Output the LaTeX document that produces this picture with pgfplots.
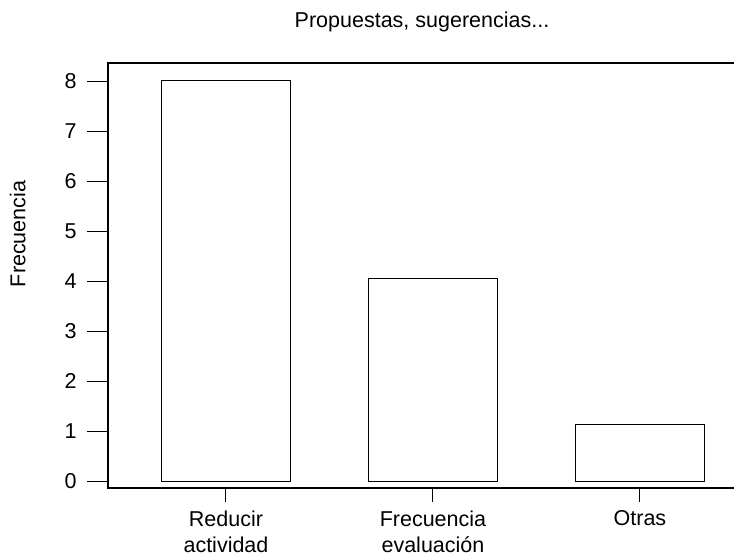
\documentclass[border=0pt]{standalone}
\usepackage{fontspec}
\setmainfont{Liberation Sans}
\usepackage{pgfplots}
\pgfplotsset{compat=1.18}
\newcommand{\chartfont}{\fontsize{21.5bp}{26bp}\selectfont}
\begin{document}
\begin{tikzpicture}
\useasboundingbox (-108bp,-68bp) rectangle (626bp,488bp);
\begin{axis}[
  scale only axis,
  width=628bp, height=425bp,
  xmin=-0.57, xmax=2.464,
  ymin=-0.14, ymax=8.36,
  axis line style={line width=1.4bp, black},
  ybar, bar width=0.62,
  xtick=data,
  xticklabels={{Reducir\\actividad},{Frecuencia\\evaluación},{Otras}},
  ytick={0,1,...,8},
  tick align=outside,
  major tick length=21bp,
  tick style={line width=1bp, black},
  xtick pos=bottom, ytick pos=left,
  every major x tick/.append style={/pgfplots/major tick length=14bp},
  tick label style={font=\chartfont},
  x tick label style={align=center, yshift=2bp},
  y tick label style={xshift=-7bp},
  /pgf/number format/assume math mode=true,
  ylabel={Frecuencia},
  y label style={font=\chartfont, at={(axis description cs:-0.144,0.598)}, anchor=center},
  title={Propuestas, sugerencias...},
  title style={font=\chartfont, at={(axis description cs:0.5,1)}, anchor=base, yshift=30bp},
]
\addplot[fill=white, draw=black, line width=1bp] coordinates {
  (0, 8.02)
  (1, 4.05)
  (2, 1.14)
};
\end{axis}
\end{tikzpicture}
\end{document}
